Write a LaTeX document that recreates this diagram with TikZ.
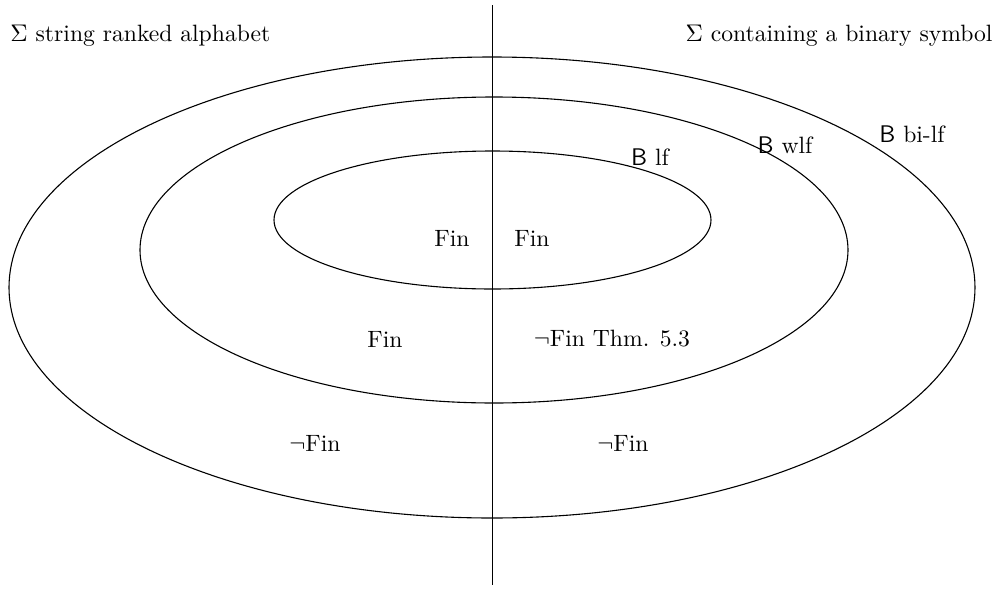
\documentclass[tikz,border=0pt]{standalone}
\usepackage{amssymb}
\begin{document}
\begin{tikzpicture}[x=0.455pt,y=-0.455pt,
  lbl/.style={inner sep=0pt,font=\fontsize{10.75pt}{13pt}\selectfont},
  ring/.style={draw=black,line width=0.5pt}]
\useasboundingbox (0,0) rectangle (1001,590);
% ellipses
\draw[ring] (492,287.5) ellipse [x radius=483, y radius=230.5];
\draw[ring] (494,250) ellipse [x radius=354, y radius=153];
\draw[ring] (492.5,220) ellipse [x radius=218.5, y radius=69];
% divider
\coordinate (top) at (492.5,5);
\coordinate (bot) at (492.5,585);
\draw[line width=0.5pt] (top) -- (bot);
% headings
\node[lbl,anchor=west] (hl) at (10,36) {$\Sigma$ string ranked alphabet};
\node[lbl,anchor=east] (hr) at (993,36) {$\Sigma$ containing a binary symbol};
% ring labels
\node[lbl] (lf) at (650,157) {$\mathsf{B}$ lf};
\node[lbl] (wlf) at (785,145) {$\mathsf{B}$ wlf};
\node[lbl] (bilf) at (912,134) {$\mathsf{B}$ bi-lf};
% region labels
\node[lbl] (f1) at (452,238) {Fin};
\node[lbl] (f2) at (532,238) {Fin};
\node[lbl] (f3) at (385,339) {Fin};
\node[lbl] (f4) at (612,339) {$\neg$Fin Thm. 5.3};
\node[lbl] (f5) at (315,443) {$\neg$Fin};
\node[lbl] (f6) at (623,443) {$\neg$Fin};
\end{tikzpicture}
\end{document}
